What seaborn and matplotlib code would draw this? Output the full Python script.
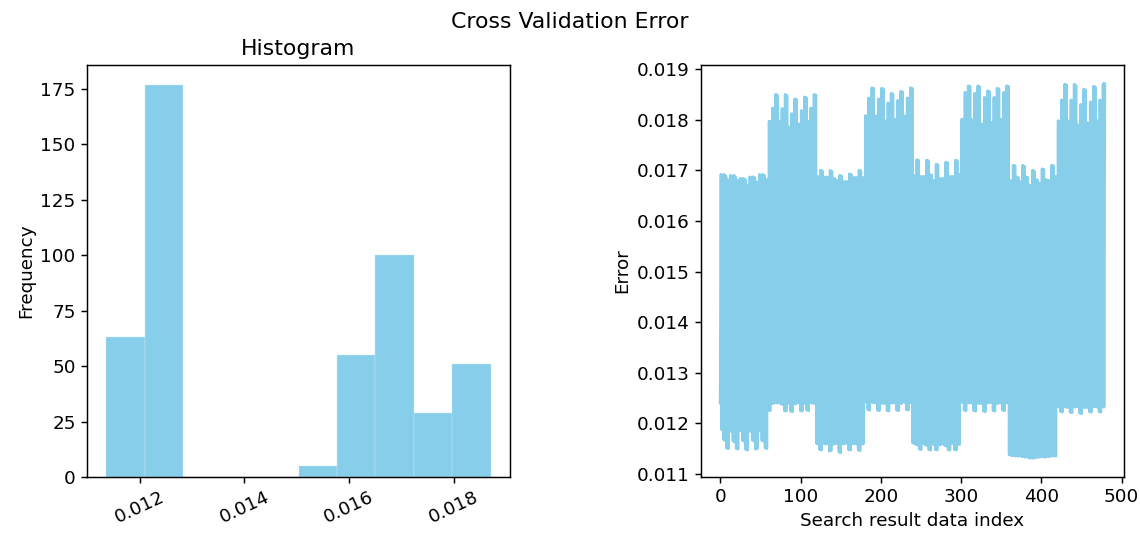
import numpy as np
import matplotlib
matplotlib.use("Agg")
import matplotlib.pyplot as plt
import seaborn as sns

# ---- Histogram ----
hist_edges = [0.011360, 0.012095, 0.012830, 0.013565, 0.014300, 0.015035,
              0.015770, 0.016505, 0.017240, 0.017975, 0.018710]
hist_counts = [63, 177, 0, 0, 0, 5, 55, 100, 29, 51]

# ---- Cross validation error per search result ----
cv_error = [
    # block 0 (0-59)
    0.01240, 0.01692, 0.01187, 0.01690, 0.01168, 0.01692, 0.01166, 0.01689, 0.01151, 0.01682, 0.01150, 0.01680,
    0.01185, 0.01690, 0.01184, 0.01688, 0.01165, 0.01690, 0.01163, 0.01687, 0.01150, 0.01681, 0.01149, 0.01679,
    0.01186, 0.01684, 0.01185, 0.01683, 0.01166, 0.01684, 0.01164, 0.01682, 0.01148, 0.01671, 0.01147, 0.01670,
    0.01185, 0.01687, 0.01184, 0.01686, 0.01167, 0.01687, 0.01165, 0.01685, 0.01149, 0.01677, 0.01150, 0.01676,
    0.01186, 0.01692, 0.01185, 0.01690, 0.01166, 0.01692, 0.01165, 0.01690, 0.01151, 0.01682, 0.01150, 0.01681,
    # block 1 (60-119)
    0.01226, 0.01797, 0.01225, 0.01796, 0.01240, 0.01823, 0.01239, 0.01822, 0.01241, 0.01850, 0.01240, 0.01849,
    0.01241, 0.01797, 0.01240, 0.01795, 0.01238, 0.01822, 0.01237, 0.01821, 0.01225, 0.01850, 0.01224, 0.01848,
    0.01240, 0.01786, 0.01239, 0.01785, 0.01224, 0.01812, 0.01223, 0.01811, 0.01239, 0.01841, 0.01238, 0.01840,
    0.01241, 0.01792, 0.01240, 0.01791, 0.01225, 0.01818, 0.01224, 0.01817, 0.01240, 0.01845, 0.01239, 0.01844,
    0.01226, 0.01797, 0.01225, 0.01796, 0.01241, 0.01823, 0.01240, 0.01822, 0.01240, 0.01850, 0.01239, 0.01849,
    # block 2 (120-179)
    0.01160, 0.01688, 0.01159, 0.01687, 0.01148, 0.01700, 0.01147, 0.01699, 0.01161, 0.01687, 0.01160, 0.01686,
    0.01159, 0.01687, 0.01160, 0.01686, 0.01145, 0.01700, 0.01146, 0.01698, 0.01158, 0.01684, 0.01159, 0.01683,
    0.01161, 0.01680, 0.01160, 0.01679, 0.01143, 0.01690, 0.01142, 0.01689, 0.01160, 0.01678, 0.01159, 0.01677,
    0.01161, 0.01678, 0.01160, 0.01677, 0.01148, 0.01693, 0.01147, 0.01692, 0.01159, 0.01686, 0.01160, 0.01685,
    0.01160, 0.01686, 0.01159, 0.01685, 0.01147, 0.01700, 0.01146, 0.01699, 0.01160, 0.01686, 0.01159, 0.01685,
    # block 3 (180-239)
    0.01243, 0.01808, 0.01242, 0.01807, 0.01227, 0.01843, 0.01226, 0.01842, 0.01242, 0.01863, 0.01241, 0.01862,
    0.01241, 0.01808, 0.01240, 0.01806, 0.01226, 0.01841, 0.01225, 0.01840, 0.01240, 0.01862, 0.01239, 0.01861,
    0.01240, 0.01798, 0.01239, 0.01797, 0.01225, 0.01833, 0.01224, 0.01832, 0.01241, 0.01852, 0.01240, 0.01851,
    0.01241, 0.01801, 0.01240, 0.01800, 0.01226, 0.01838, 0.01225, 0.01837, 0.01240, 0.01856, 0.01239, 0.01855,
    0.01242, 0.01808, 0.01241, 0.01807, 0.01227, 0.01843, 0.01226, 0.01842, 0.01241, 0.01863, 0.01240, 0.01862,
    # block 4 (240-299)
    0.01161, 0.01690, 0.01160, 0.01689, 0.01158, 0.01721, 0.01157, 0.01720, 0.01149, 0.01688, 0.01148, 0.01687,
    0.01160, 0.01688, 0.01159, 0.01687, 0.01157, 0.01720, 0.01156, 0.01719, 0.01148, 0.01692, 0.01147, 0.01691,
    0.01159, 0.01680, 0.01158, 0.01679, 0.01148, 0.01712, 0.01147, 0.01711, 0.01158, 0.01684, 0.01157, 0.01683,
    0.01160, 0.01684, 0.01159, 0.01683, 0.01156, 0.01716, 0.01155, 0.01715, 0.01148, 0.01688, 0.01147, 0.01687,
    0.01161, 0.01688, 0.01160, 0.01687, 0.01148, 0.01720, 0.01147, 0.01719, 0.01159, 0.01693, 0.01158, 0.01692,
    # block 5 (300-359)
    0.01242, 0.01801, 0.01241, 0.01800, 0.01226, 0.01854, 0.01225, 0.01853, 0.01241, 0.01867, 0.01240, 0.01866,
    0.01241, 0.01801, 0.01240, 0.01799, 0.01225, 0.01852, 0.01224, 0.01851, 0.01240, 0.01867, 0.01239, 0.01865,
    0.01240, 0.01792, 0.01239, 0.01791, 0.01224, 0.01844, 0.01223, 0.01843, 0.01241, 0.01857, 0.01240, 0.01856,
    0.01242, 0.01795, 0.01241, 0.01794, 0.01225, 0.01844, 0.01224, 0.01843, 0.01240, 0.01862, 0.01239, 0.01861,
    0.01241, 0.01801, 0.01240, 0.01800, 0.01226, 0.01854, 0.01225, 0.01853, 0.01241, 0.01867, 0.01240, 0.01866,
    # block 6 (360-419)
    0.01138, 0.01680, 0.01137, 0.01679, 0.01136, 0.01710, 0.01137, 0.01709, 0.01135, 0.01687, 0.01136, 0.01686,
    0.01135, 0.01678, 0.01136, 0.01677, 0.01134, 0.01710, 0.01135, 0.01708, 0.01133, 0.01687, 0.01134, 0.01686,
    0.01132, 0.01671, 0.01131, 0.01670, 0.01132, 0.01700, 0.01131, 0.01699, 0.01133, 0.01682, 0.01132, 0.01681,
    0.01134, 0.01675, 0.01133, 0.01674, 0.01135, 0.01703, 0.01134, 0.01702, 0.01133, 0.01682, 0.01134, 0.01681,
    0.01135, 0.01680, 0.01134, 0.01679, 0.01136, 0.01710, 0.01135, 0.01709, 0.01136, 0.01688, 0.01135, 0.01687,
    # block 7 (420-479)
    0.01233, 0.01798, 0.01232, 0.01797, 0.01223, 0.01839, 0.01222, 0.01838, 0.01233, 0.01870, 0.01232, 0.01869,
    0.01232, 0.01798, 0.01231, 0.01796, 0.01222, 0.01839, 0.01221, 0.01837, 0.01233, 0.01870, 0.01232, 0.01868,
    0.01233, 0.01790, 0.01232, 0.01789, 0.01220, 0.01830, 0.01219, 0.01829, 0.01232, 0.01860, 0.01231, 0.01859,
    0.01232, 0.01794, 0.01231, 0.01793, 0.01223, 0.01835, 0.01222, 0.01834, 0.01234, 0.01866, 0.01233, 0.01865,
    0.01233, 0.01798, 0.01232, 0.01797, 0.01223, 0.01839, 0.01222, 0.01838, 0.01233, 0.01871, 0.01232, 0.01871,
]

suptitle = "Cross Validation Error"
hist_title = "Histogram"
hist_ylabel = "Frequency"
line_xlabel = "Search result data index"
line_ylabel = "Error"
hist_xticks = [0.012, 0.014, 0.016, 0.018]

plt.rcParams.update({
    "font.family": ["DejaVu Sans"],
    "font.size": 13.2,
    "axes.linewidth": 1.05,
    "xtick.major.width": 1.05,
    "ytick.major.width": 1.05,
    "xtick.major.size": 4.6,
    "ytick.major.size": 4.6,
})

fig, (ax1, ax2) = plt.subplots(1, 2, figsize=(11.4, 5.33), dpi=100)
fig.subplots_adjust(left=87 / 1140, right=1124 / 1140, bottom=1 - 477 / 533,
                    top=1 - 65 / 533, wspace=0.4515)

edges = np.array(hist_edges)
centers = (edges[:-1] + edges[1:]) / 2
sns.histplot(x=centers, weights=hist_counts, bins=hist_edges, ax=ax1,
             color="skyblue", alpha=1.0, edgecolor="#c9e9f5", linewidth=0.3)
ax1.set_title(hist_title, fontsize=15.8, pad=7)
ax1.set_ylabel(hist_ylabel)
ax1.set_xlabel("")
ax1.set_xticks(hist_xticks)
ax1.set_xticklabels([f"{t:.3f}" for t in hist_xticks], rotation=25)
ax1.margins(x=0.05)
ax1.set_ylim(0, max(hist_counts) * 1.05)

idx = np.arange(len(cv_error))
sns.lineplot(x=idx, y=cv_error, ax=ax2, color="skyblue", linewidth=2.0)
ax2.set_xlabel(line_xlabel)
ax2.set_ylabel(line_ylabel)
ax2.set_xticks([0, 100, 200, 300, 400, 500])
ax2.set_yticks([0.011, 0.012, 0.013, 0.014, 0.015, 0.016, 0.017, 0.018, 0.019])
ax2.set_yticklabels([f"{t:.3f}" for t in ax2.get_yticks()])
ax2.set_xlim(-23.95, 502.95)
ax2.set_ylim(0.01094, 0.01908)

fig.suptitle(suptitle, fontsize=15.8, y=0.978)
fig.savefig("out.png", dpi=100)
